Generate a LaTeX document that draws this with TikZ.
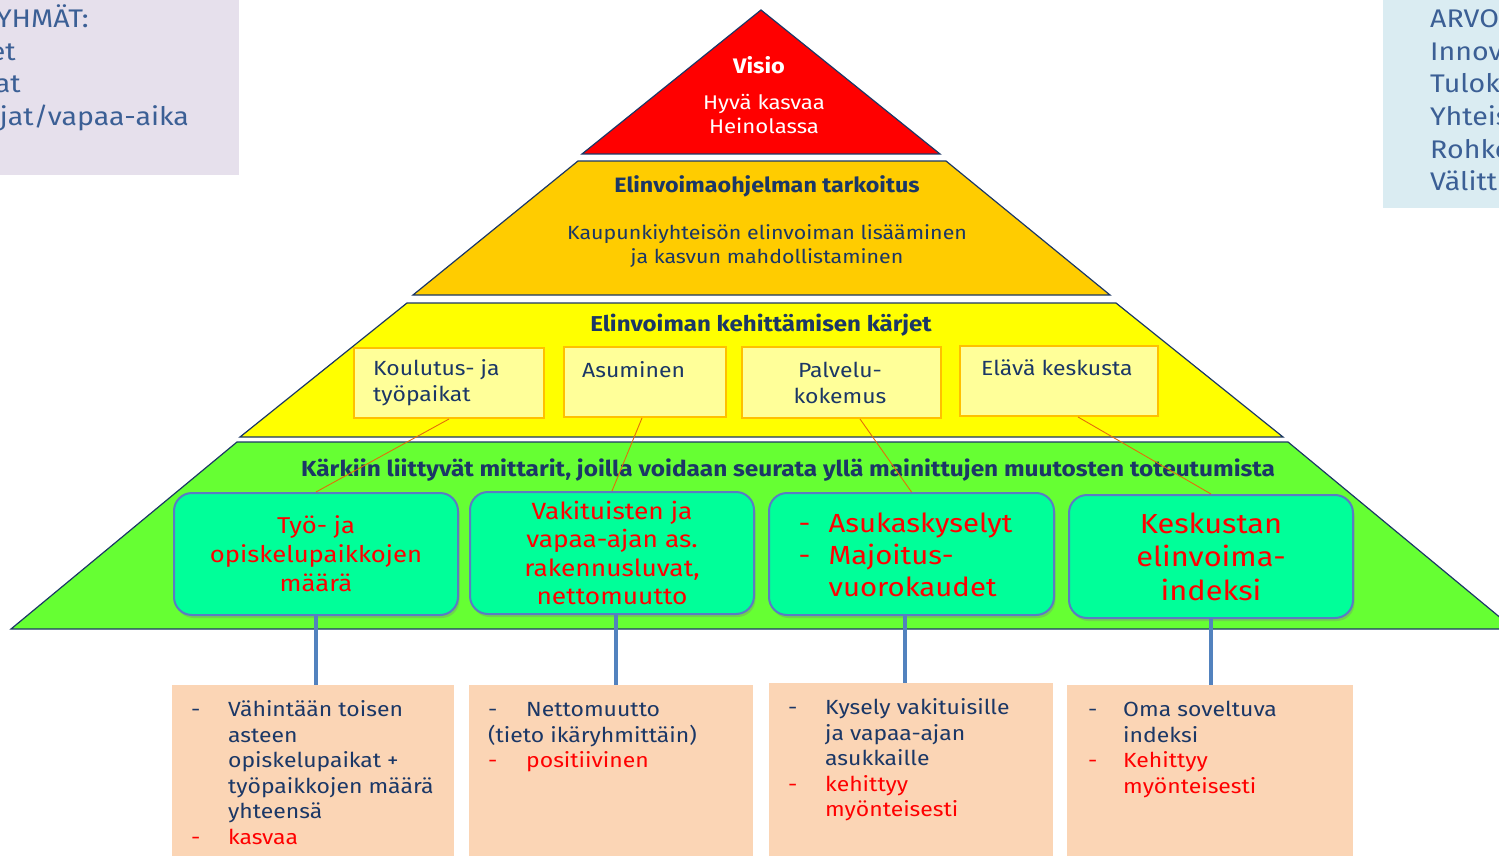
\documentclass[tikz,border=0pt]{standalone}
\usepackage{fontspec}
\setmainfont{Fira Sans}[FakeStretch=1.12]
\usetikzlibrary{shadows,calc}
\definecolor{cred}{HTML}{FF0000}
\definecolor{corangef}{HTML}{FFCC00}
\definecolor{cyellow}{HTML}{FFFF00}
\definecolor{cgreen}{HTML}{66FF33}
\definecolor{cnavy}{HTML}{1B3766}
\definecolor{clemon}{HTML}{FFFF99}
\definecolor{cgold}{HTML}{FFC000}
\definecolor{cmint}{HTML}{00FF99}
\definecolor{cslate}{HTML}{5A7CC4}
\definecolor{cpeach}{HTML}{FBD5B5}
\definecolor{cline}{HTML}{E46C0A}
\definecolor{cblue}{HTML}{5282BE}
\definecolor{cpurple}{HTML}{E6E0EC}
\definecolor{csky}{HTML}{DAECF2}
\definecolor{csidetext}{HTML}{3B5F95}
\begin{document}
\begin{tikzpicture}[x=1pt,y=-1pt,
  tier/.style={draw=cnavy, line width=1.2pt},
  kbox/.style={draw=cgold, fill=clemon, line width=2pt, anchor=north west, inner sep=0pt},
  ktext/.style={text=cnavy, font=\fontsize{20.5}{26}\selectfont, inner sep=0pt},
  mbox/.style={draw=cslate, fill=cmint, line width=2pt, rounded corners=18pt, anchor=north west,
    drop shadow={opacity=0.35, shadow xshift=1.5pt, shadow yshift=-3pt}, text=red, align=center, inner sep=0pt},
  pbox/.style={fill=cpeach, anchor=north west, inner sep=0pt},
  ptext/.style={anchor=north west, inner sep=0pt, text=cnavy, font=\fontsize{20.5}{25.5}\selectfont},
  oconn/.style={draw=cline, line width=0.9pt},
  bconn/.style={draw=cblue, line width=4.5pt},
  side/.style={text=csidetext, font=\fontsize{25.5}{32}\selectfont, inner sep=0pt},
  ptitle/.style={text=cnavy, font=\bfseries\fontsize{20.5}{24}\selectfont, inner sep=0pt},
  pbody/.style={text=cnavy, font=\fontsize{19.1}{24}\selectfont, align=center, inner sep=0pt}
]
\useasboundingbox (0,0) rectangle (1499,856);
\clip (0,0) rectangle (1499,856);

% side boxes
\node[fill=cpurple, anchor=north west, minimum width=239pt, minimum height=175pt, inner sep=0pt] (grp) at (0,0) {};
\node[side, anchor=base east] (g1) at (89,28) {YHMÄT:};
\node[side, anchor=base east] (g2) at (16,60.5) {et};
\node[side, anchor=base east] (g3) at (21,93) {at};
\node[side, anchor=base east] (g4) at (189,125.5) {jat/vapaa-aika};

\node[fill=csky, anchor=north west, minimum width=120pt, minimum height=208pt, inner sep=0pt] (arv) at (1383,0) {};
\node[side, anchor=base west] (a1) at (1430,28) {ARVO};
\node[side, anchor=base west] (a2) at (1430,60.5) {Innov};
\node[side, anchor=base west] (a3) at (1430,93) {Tulok};
\node[side, anchor=base west] (a4) at (1430,125.5) {Yhteis};
\node[side, anchor=base west] (a5) at (1430,158) {Rohke};
\node[side, anchor=base west] (a6) at (1430,190.5) {Välitt};

% pyramid tiers
\draw[tier, fill=cred] (761,10) -- (940,154) -- (582,154) -- cycle;
\draw[tier, fill=corangef] (578,161) -- (946,161) -- (1110,295) -- (413,295) -- cycle;
\draw[tier, fill=cyellow] (407,303) -- (1116,303) -- (1283,437) -- (240,437) -- cycle;
\draw[tier, fill=cgreen] (237,442) -- (1288,442) -- (1514,629) -- (11,629) -- cycle;

% texts of tiers
\node[text=white, font=\bfseries\fontsize{21}{24}\selectfont, inner sep=0pt] (visio) at (759,65) {Visio};
\node[text=white, font=\fontsize{19.8}{24}\selectfont, align=center, inner sep=0pt] (hyva) at (764,114) {Hyvä kasvaa\\Heinolassa};
\node[ptitle, font=\bfseries\fontsize{20.8}{24}\selectfont] (tark) at (767,186) {Elinvoimaohjelman tarkoitus};
\node[pbody] (tarkt) at (767,246) {Kaupunkiyhteisön elinvoiman lisääminen\\ja kasvun mahdollistaminen};
\node[ptitle, font=\bfseries\fontsize{21.5}{24}\selectfont] (karjet) at (761,325) {Elinvoiman kehittämisen kärjet};
\node[ptitle, font=\bfseries\fontsize{21.8}{24}\selectfont] (mitt) at (788,470) {Kärkiin liittyvät mittarit, joilla voidaan seurata yllä mainittujen muutosten toteutumista};

% spearhead boxes
\node[kbox, minimum width=190pt, minimum height=70pt] (k1) at (353,347) {};
\node[kbox, minimum width=162pt, minimum height=70pt] (k2) at (563,346) {};
\node[kbox, minimum width=199pt, minimum height=71pt] (k3) at (741,346) {};
\node[kbox, minimum width=198pt, minimum height=70pt] (k4) at (959,345) {};
\node[ktext, anchor=west, align=left] (k1t) at (373,383) {Koulutus- ja\\työpaikat};
\node[ktext, anchor=west] (k2t) at (582,370) {Asuminen};
\node[ktext, align=center] (k3t) at (840,383) {Palvelu-\\kokemus};
\node[ktext, anchor=west] (k4t) at (981,368) {Elävä keskusta};

% indicator boxes
\node[mbox, minimum width=284pt, minimum height=122pt, font=\fontsize{22.9}{29}\selectfont] (m1) at (173,492) {Työ- ja\\opiskelupaikkojen\\määrä};
\node[mbox, minimum width=284pt, minimum height=122pt, font=\fontsize{23.5}{28.5}\selectfont] (m2) at (469,491) {Vakituisten ja\\vapaa-ajan as.\\rakennusluvat,\\nettomuutto};
\node[mbox, minimum width=285pt, minimum height=122pt, font=\fontsize{26.2}{32}\selectfont] (m3) at (768,492) {\raisebox{-4pt}[\height][\depth]{\begin{tabular}{@{}p{30pt}@{}l@{}p{12pt}@{}}
- & Asukaskyselyt & \\
- & Majoitus- & \\
 & vuorokaudet &
\end{tabular}}};
\node[mbox, minimum width=284pt, minimum height=123pt, font=\fontsize{27.5}{33.5}\selectfont] (m4) at (1068,494) {Keskustan\\elinvoima-\\indeksi};

% target boxes
\node[pbox, minimum width=282pt, minimum height=171pt] (p1) at (172,685) {};
\node[pbox, minimum width=284pt, minimum height=171pt] (p2) at (469,685) {};
\node[pbox, minimum width=284pt, minimum height=173pt] (p3) at (769,683) {};
\node[pbox, minimum width=286pt, minimum height=171pt] (p4) at (1067,685) {};

\node[ptext] (t1) at (191,698.5) {\begin{tabular}{@{}p{37pt}@{}l@{}}
- & Vähintään toisen\\
 & asteen\\
 & opiskelupaikat +\\
 & työpaikkojen määrä\\
 & yhteensä\\
\textcolor{red}{-} & \textcolor{red}{kasvaa}
\end{tabular}};
\node[ptext] (t2) at (488,698.5) {\begin{tabular}{@{}p{38pt}@{}l@{}}
- & Nettomuutto\\
\multicolumn{2}{@{}l@{}}{(tieto ikäryhmittäin)}\\
\textcolor{red}{-} & \textcolor{red}{positiivinen}
\end{tabular}};
\node[ptext] (t3) at (788,696.5) {\begin{tabular}{@{}p{37pt}@{}l@{}}
- & Kysely vakituisille\\
 & ja vapaa-ajan\\
 & asukkaille\\
\textcolor{red}{-} & \textcolor{red}{kehittyy}\\
 & \textcolor{red}{myönteisesti}
\end{tabular}};
\node[ptext] (t4) at (1088,698.5) {\begin{tabular}{@{}p{35pt}@{}l@{}}
- & Oma soveltuva\\
 & indeksi\\
\textcolor{red}{-} & \textcolor{red}{Kehittyy}\\
 & \textcolor{red}{myönteisesti}
\end{tabular}};

% connectors
\draw[oconn] (k1.south) -- (m1.north);
\draw[oconn] ([xshift=-3pt]k2.south) -- (m2.north);
\draw[oconn] ([xshift=18.5pt]k3.south) -- (m3.north);
\draw[oconn] ([xshift=19pt]k4.south) -- (m4.north);

\draw[bconn] (m1.south) -- (m1.south |- p1.north);
\draw[bconn] ([xshift=4pt]m2.south) -- ([xshift=4pt]m2.south |- p2.north);
\draw[bconn] ([xshift=-6.5pt]m3.south) -- ([xshift=-6.5pt]m3.south |- p3.north);
\draw[bconn] (m4.south) -- (m4.south |- p4.north);
\end{tikzpicture}
\end{document}
